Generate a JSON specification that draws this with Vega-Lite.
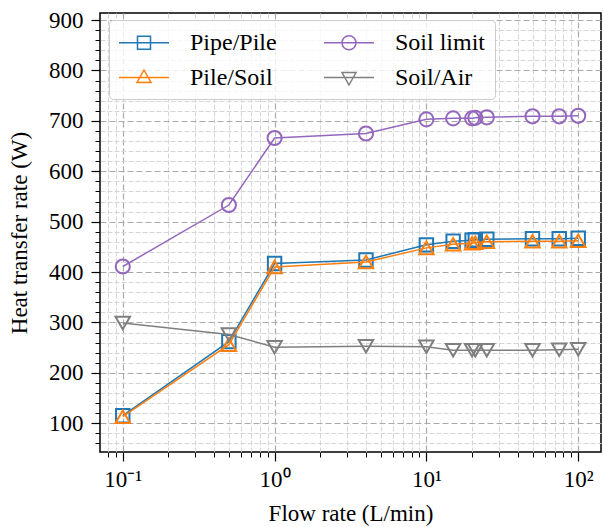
{
  "$schema": "https://vega.github.io/schema/vega-lite/v6.json",
  "width": 501,
  "height": 439,
  "autosize": {"type": "none"},
  "padding": {"left": 100, "top": 13, "right": 2, "bottom": 75},
  "background": "white",
  "config": {
    "view": {"stroke": "black", "strokeWidth": 1.5},
    "axis": {
      "labelFont": "Liberation Serif",
      "titleFont": "Liberation Serif",
      "labelColor": "black",
      "titleColor": "black",
      "titleFontWeight": "normal",
      "tickColor": "black",
      "tickWidth": 1.2,
      "domain": false
    }
  },
  "datasets": {
    "d": [
      {"series": "Pipe/Pile", "flow": 0.1, "q": 115},
      {"series": "Pipe/Pile", "flow": 0.5, "q": 262},
      {"series": "Pipe/Pile", "flow": 1, "q": 417},
      {"series": "Pipe/Pile", "flow": 4, "q": 424},
      {"series": "Pipe/Pile", "flow": 10, "q": 454},
      {"series": "Pipe/Pile", "flow": 15, "q": 461},
      {"series": "Pipe/Pile", "flow": 20, "q": 463},
      {"series": "Pipe/Pile", "flow": 21, "q": 464},
      {"series": "Pipe/Pile", "flow": 25, "q": 465},
      {"series": "Pipe/Pile", "flow": 50, "q": 466},
      {"series": "Pipe/Pile", "flow": 75, "q": 466},
      {"series": "Pipe/Pile", "flow": 100, "q": 467},
      {"series": "Pile/Soil", "flow": 0.1, "q": 113},
      {"series": "Pile/Soil", "flow": 0.5, "q": 256},
      {"series": "Pile/Soil", "flow": 1, "q": 410},
      {"series": "Pile/Soil", "flow": 4, "q": 420},
      {"series": "Pile/Soil", "flow": 10, "q": 448},
      {"series": "Pile/Soil", "flow": 15, "q": 455},
      {"series": "Pile/Soil", "flow": 20, "q": 457},
      {"series": "Pile/Soil", "flow": 21, "q": 458},
      {"series": "Pile/Soil", "flow": 25, "q": 460},
      {"series": "Pile/Soil", "flow": 50, "q": 461},
      {"series": "Pile/Soil", "flow": 75, "q": 461},
      {"series": "Pile/Soil", "flow": 100, "q": 462},
      {"series": "Soil limit", "flow": 0.1, "q": 411},
      {"series": "Soil limit", "flow": 0.5, "q": 533},
      {"series": "Soil limit", "flow": 1, "q": 666},
      {"series": "Soil limit", "flow": 4, "q": 675},
      {"series": "Soil limit", "flow": 10, "q": 703},
      {"series": "Soil limit", "flow": 15, "q": 705},
      {"series": "Soil limit", "flow": 20, "q": 705},
      {"series": "Soil limit", "flow": 21, "q": 706},
      {"series": "Soil limit", "flow": 25, "q": 707},
      {"series": "Soil limit", "flow": 50, "q": 709},
      {"series": "Soil limit", "flow": 75, "q": 709},
      {"series": "Soil limit", "flow": 100, "q": 710},
      {"series": "Soil/Air", "flow": 0.1, "q": 299},
      {"series": "Soil/Air", "flow": 0.5, "q": 276},
      {"series": "Soil/Air", "flow": 1, "q": 251},
      {"series": "Soil/Air", "flow": 4, "q": 253},
      {"series": "Soil/Air", "flow": 10, "q": 252},
      {"series": "Soil/Air", "flow": 15, "q": 245},
      {"series": "Soil/Air", "flow": 20, "q": 245},
      {"series": "Soil/Air", "flow": 21, "q": 245},
      {"series": "Soil/Air", "flow": 25, "q": 245},
      {"series": "Soil/Air", "flow": 50, "q": 245},
      {"series": "Soil/Air", "flow": 75, "q": 246},
      {"series": "Soil/Air", "flow": 100, "q": 247}
    ]
  },
  "data": {"name": "d"},
  "layer": [
    {
      "mark": {"type": "point", "opacity": 0},
      "encoding": {
        "x": {
          "field": "flow", "type": "quantitative",
          "scale": {"type": "log", "domain": [0.0708, 141.3], "nice": false},
          "axis": {
            "orient": "bottom",
            "values": [0.08, 0.09, 0.2, 0.3, 0.4, 0.5, 0.6, 0.7, 0.8, 0.9, 2, 3, 4, 5, 6, 7, 8, 9, 20, 30, 40, 50, 60, 70, 80, 90],
            "labels": false, "title": null, "tickSize": 5, "tickWidth": 1,
            "grid": true, "gridColor": "#d6d6d6", "gridDash": [5, 2], "gridWidth": 1
          }
        },
        "y": {
          "field": "q", "type": "quantitative",
          "scale": {"domain": [43, 914], "nice": false, "zero": false},
          "axis": {
            "orient": "left",
            "values": [60, 80, 120, 140, 160, 180, 220, 240, 260, 280, 320, 340, 360, 380, 420, 440, 460, 480, 520, 540, 560, 580, 620, 640, 660, 680, 720, 740, 760, 780, 820, 840, 860, 880],
            "labels": false, "title": null, "tickSize": 5, "tickWidth": 1,
            "grid": true, "gridColor": "#d6d6d6", "gridDash": [5, 2], "gridWidth": 1
          }
        }
      }
    },
    {
      "mark": {"type": "point", "opacity": 0},
      "encoding": {
        "x": {
          "field": "flow", "type": "quantitative",
          "axis": {
            "orient": "bottom",
            "values": [0.1, 1, 10, 100],
            "labelExpr": "datum.value < 0.5 ? '10⁻¹' : datum.value < 5 ? '10⁰' : datum.value < 50 ? '10¹' : '10²'",
            "labelFont": "Liberation Serif",
            "labelFontSize": 23, "labelPadding": 7,
            "title": "Flow rate (L/min)", "titleFont": "Liberation Serif", "titleFontSize": 23, "titlePadding": 11,
            "tickSize": 9,
            "grid": true, "gridColor": "#aaaaaa", "gridDash": [6, 3], "gridWidth": 1.2
          }
        },
        "y": {
          "field": "q", "type": "quantitative",
          "axis": {
            "orient": "left",
            "values": [100, 200, 300, 400, 500, 600, 700, 800, 900],
            "labelFont": "Liberation Serif",
            "labelFontSize": 23, "labelPadding": 8,
            "title": "Heat transfer rate (W)", "titleFont": "Liberation Serif", "titleFontSize": 23, "titlePadding": 17,
            "tickSize": 9,
            "grid": true, "gridColor": "#aaaaaa", "gridDash": [6, 3], "gridWidth": 1.2
          }
        }
      }
    },
    {
      "transform": [{"filter": "datum.series == 'Pipe/Pile'"}],
      "layer": [
        {"mark": {"type": "line", "color": "#1f77b4", "strokeWidth": 1.5},
         "encoding": {"x": {"field": "flow", "type": "quantitative", "axis": null}, "y": {"field": "q", "type": "quantitative", "axis": null}}},
        {"mark": {"type": "point", "shape": "square", "filled": false, "color": "#1f77b4", "strokeWidth": 2, "size": 180, "opacity": 1},
         "encoding": {"x": {"field": "flow", "type": "quantitative", "axis": null}, "y": {"field": "q", "type": "quantitative", "axis": null}}}
      ]
    },
    {
      "transform": [{"filter": "datum.series == 'Pile/Soil'"}],
      "layer": [
        {"mark": {"type": "line", "color": "#ff7f0e", "strokeWidth": 1.5},
         "encoding": {"x": {"field": "flow", "type": "quantitative", "axis": null}, "y": {"field": "q", "type": "quantitative", "axis": null}}},
        {"mark": {"type": "point", "shape": "triangle-up", "filled": false, "color": "#ff7f0e", "strokeWidth": 2, "size": 210, "opacity": 1},
         "encoding": {"x": {"field": "flow", "type": "quantitative", "axis": null}, "y": {"field": "q", "type": "quantitative", "axis": null}}}
      ]
    },
    {
      "transform": [{"filter": "datum.series == 'Soil limit'"}],
      "layer": [
        {"mark": {"type": "line", "color": "#9467bd", "strokeWidth": 1.5},
         "encoding": {"x": {"field": "flow", "type": "quantitative", "axis": null}, "y": {"field": "q", "type": "quantitative", "axis": null}}},
        {"mark": {"type": "point", "shape": "circle", "filled": false, "color": "#9467bd", "strokeWidth": 2, "size": 200, "opacity": 1},
         "encoding": {"x": {"field": "flow", "type": "quantitative", "axis": null}, "y": {"field": "q", "type": "quantitative", "axis": null}}}
      ]
    },
    {
      "transform": [{"filter": "datum.series == 'Soil/Air'"}],
      "layer": [
        {"mark": {"type": "line", "color": "#7f7f7f", "strokeWidth": 1.5},
         "encoding": {"x": {"field": "flow", "type": "quantitative", "axis": null}, "y": {"field": "q", "type": "quantitative", "axis": null}}},
        {"mark": {"type": "point", "shape": "triangle-down", "filled": false, "color": "#7f7f7f", "strokeWidth": 2, "size": 210, "opacity": 1},
         "encoding": {"x": {"field": "flow", "type": "quantitative", "axis": null}, "y": {"field": "q", "type": "quantitative", "axis": null}}}
      ]
    },
    {
      "transform": [{"filter": "false"}],
      "mark": {"type": "point", "filled": false, "strokeWidth": 1.5},
      "encoding": {
        "x": {"field": "flow", "type": "quantitative", "axis": null},
        "y": {"field": "q", "type": "quantitative", "axis": null},
        "color": {
          "field": "series", "type": "nominal",
          "scale": {"domain": ["Pipe/Pile", "Pile/Soil", "Soil limit", "Soil/Air"], "range": ["#1f77b4", "#ff7f0e", "#9467bd", "#7f7f7f"]},
          "legend": {
            "orient": "none", "legendX": 9, "legendY": 7, "columns": 2,
            "columnPadding": 44, "rowPadding": 9, "padding": 9,
            "fillColor": "rgba(255,255,255,0.8)", "strokeColor": "#cccccc", "cornerRadius": 4,
            "labelFont": "Liberation Serif", "labelFontSize": 24, "labelColor": "black",
            "labelOffset": 45, "symbolSize": 625, "symbolStrokeWidth": 1.5, "symbolOpacity": 1,
            "title": null
          }
        },
        "shape": {
          "field": "series", "type": "nominal",
          "scale": {"domain": ["Pipe/Pile", "Pile/Soil", "Soil limit", "Soil/Air"],
                    "range": [
                      "M-1,0H3M0.48,-0.52H1.52V0.52H0.48Z",
                      "M-1,0H3M1,-0.6L1.56,0.4L0.44,0.4Z",
                      "M-1,0H3M1.56,0A0.56,0.56,0,1,1,0.44,0A0.56,0.56,0,1,1,1.56,0Z",
                      "M-1,0H3M1,0.6L1.56,-0.4L0.44,-0.4Z"
                    ]},
          "legend": {
            "orient": "none", "legendX": 9, "legendY": 7, "columns": 2,
            "columnPadding": 44, "rowPadding": 9, "padding": 9,
            "fillColor": "rgba(255,255,255,0.8)", "strokeColor": "#cccccc", "cornerRadius": 4,
            "labelFont": "Liberation Serif", "labelFontSize": 24, "labelColor": "black",
            "labelOffset": 45, "symbolSize": 625, "symbolStrokeWidth": 1.5, "symbolOpacity": 1,
            "title": null
          }
        }
      }
    }
  ],
  "resolve": {"axis": {"x": "independent", "y": "independent"}}
}
